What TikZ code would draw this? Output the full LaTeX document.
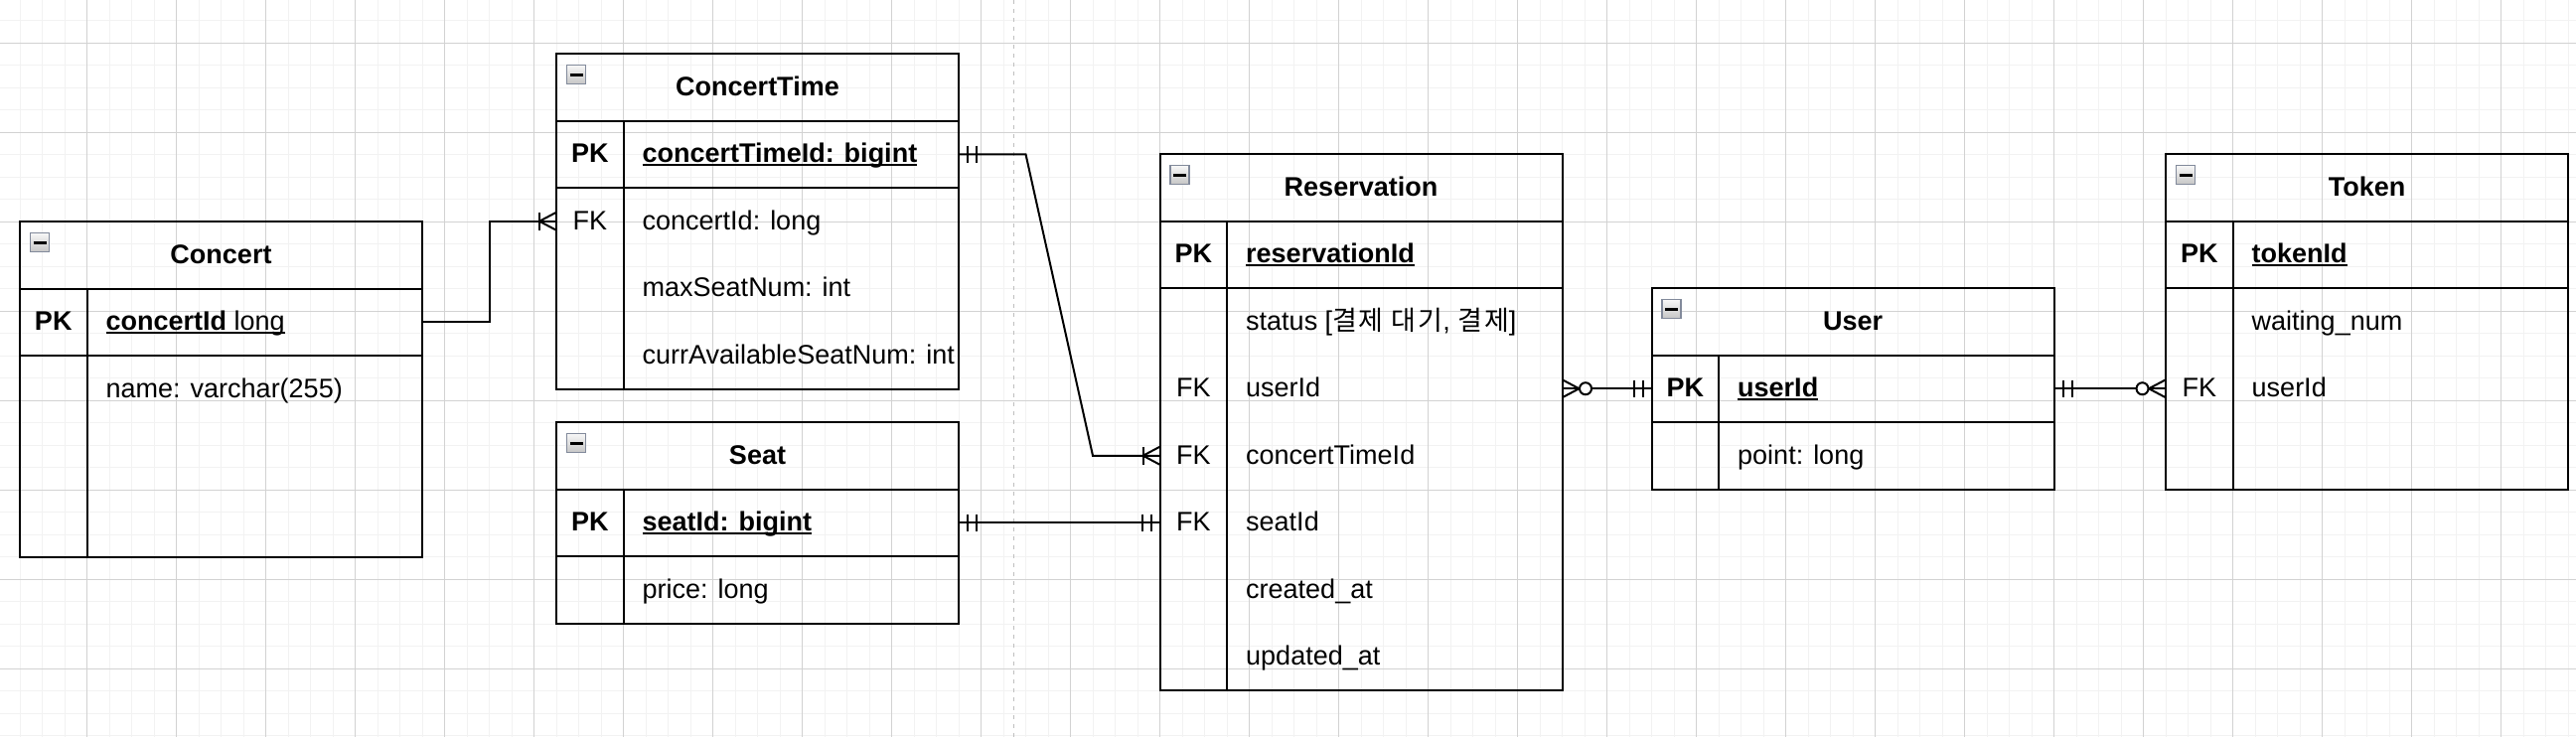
\documentclass[tikz,border=0pt]{standalone}
\usepackage{fontspec}
\setmainfont{Liberation Sans}
\newfontfamily\krfont[LetterSpace=7]{Noto Sans CJK KR}
\usetikzlibrary{calc}
\newcommand\ulx[1]{\setbox0\hbox{#1}\rlap{\rule[-3.5pt]{\wd0}{2pt}}\box0}
\definecolor{iconedge}{RGB}{130,138,155}
\tikzset{
  gminor/.style={draw=gray!10, line width=1pt},
  gmajor/.style={draw=gray!35, line width=1pt},
  pagebreak/.style={draw=gray!50, line width=1.2pt, dash pattern=on 4pt off 5pt},
  ln/.style={draw=black, line width=2pt},
  conn/.style={draw=black, line width=2pt, line join=miter},
  frame/.style={draw=black, line width=2pt, minimum width=405pt, inner sep=0pt, outer sep=0pt, anchor=north west},
  rowbox/.style={minimum width=405pt, minimum height=67.5pt, inner sep=0pt, outer sep=0pt},
  ttl/.style={anchor=base, inner sep=0pt, font=\fontsize{27}{32}\selectfont\bfseries},
  keyt/.style={anchor=base, inner sep=0pt, font=\fontsize{27}{32}\selectfont},
  fld/.style={anchor=base west, inner sep=0pt, font=\fontsize{27}{32}\selectfont},
  minbox/.style={draw=iconedge, line width=1.5pt, top color=gray!6, bottom color=gray!45,
    minimum size=19pt, inner sep=0pt, outer sep=0pt,
    path picture={\draw[black, line width=3pt] ([xshift=-6.5pt]path picture bounding box.center) -- ([xshift=6.5pt]path picture bounding box.center);}},
}
% #1 name, #2 x, #3 y, #4 body rows, #5 title, #6 total height
\newcommand\ertable[6]{%
  \node[frame, minimum height=#6] (#1) at (#2,#3) {};
  \node[rowbox] (#1-h) at ($(#1.north west)+(202.5,33.75)$) {};
  \node[ttl] (#1-t) at ($(#1-h.center)+(0,8.5)$) {#5};
  \node[minbox] (#1-m) at ($(#1.north west)+(20,21)$) {};
  \node[rowbox] (#1-pk) at ($(#1.north west)+(202.5,101.25)$) {};
  \foreach \i in {1,...,#4}{\node[rowbox] (#1-f\i) at ($(#1.north west)+(202.5,{67.5*\i+101.25})$) {};}
  \draw[ln] (#1-h.south west) -- (#1-h.south east);
  \draw[ln] (#1-pk.south west) -- (#1-pk.south east);
  \draw[ln] ($(#1-h.south west)+(67.5,0)$) -- ($(#1.south west)+(67.5,0)$);
}
\newcommand\erfield[3]{%
  \node[keyt] (#1-k) at ($(#1.west)+(33.75,8.5)$) {#2};
  \node[fld] (#1-x) at ($(#1.west)+(86.5,8.5)$) {#3};
}
\newcommand\ermandone[2]{%
  \draw[conn] ($(#1)+(#2*9,-8.75)$) -- ($(#1)+(#2*9,8.75)$);
  \draw[conn] ($(#1)+(#2*18,-8.75)$) -- ($(#1)+(#2*18,8.75)$);
}
\newcommand\ercrow[2]{%
  \draw[conn] ($(#1)+(0,-9)$) -- ($(#1)+(#2*17,0)$) -- ($(#1)+(0,9)$);
}
\newcommand\eronemany[2]{%
  \ercrow{#1}{#2}
  \draw[conn] ($(#1)+(#2*17,-8.75)$) -- ($(#1)+(#2*17,8.75)$);
}
\newcommand\erzeromany[2]{%
  \ercrow{#1}{#2}
  \draw[conn, fill=white] ($(#1)+(#2*23.5,0)$) circle[radius=6pt];
}
\begin{document}
\begin{tikzpicture}[x=1pt, y=-1pt]
\useasboundingbox (0,0) rectangle (2593,742);
\fill[white] (0,0) rectangle (2593,742);
% grid
\foreach \i in {0,...,115} \draw[gminor] ({-2.5+22.5*\i},0) -- ({-2.5+22.5*\i},742);
\foreach \i in {0,...,33} \draw[gminor] (0,{-1.7+22.5*\i}) -- (2593,{-1.7+22.5*\i});
\foreach \i in {0,...,29} \draw[gmajor] ({-2.5+90*\i},0) -- ({-2.5+90*\i},742);
\foreach \i in {0,...,8} \draw[gmajor] (0,{43.3+90*\i}) -- (2593,{43.3+90*\i});
\draw[pagebreak] (1020.7,0) -- (1020.7,742);

% tables
\ertable{c}{20}{223}{3}{Concert}{337.5}
\erfield{c-pk}{\textbf{PK}}{\ulx{\textbf{concertId} long}}
\erfield{c-f1}{}{name: varchar(255)}

\ertable{ct}{560}{54}{3}{ConcertTime}{337.5}
\erfield{ct-pk}{\textbf{PK}}{\ulx{\textbf{concertTimeId: bigint}}}
\erfield{ct-f1}{FK}{concertId: long}
\erfield{ct-f2}{}{maxSeatNum: int}
\erfield{ct-f3}{}{currAvailableSeatNum: int}

\ertable{s}{560}{425}{1}{Seat}{202.5}
\erfield{s-pk}{\textbf{PK}}{\ulx{\textbf{seatId: bigint}}}
\erfield{s-f1}{}{price: long}

\ertable{r}{1167.5}{155}{6}{Reservation}{540}
\erfield{r-pk}{\textbf{PK}}{\ulx{\textbf{reservationId}}}
\erfield{r-f1}{}{status [{\krfont 결제 대기}, {\krfont 결제}]}
\erfield{r-f2}{FK}{userId}
\erfield{r-f3}{FK}{concertTimeId}
\erfield{r-f4}{FK}{seatId}
\erfield{r-f5}{}{created\_at}
\erfield{r-f6}{}{updated\_at}

\ertable{u}{1662.5}{290}{1}{User}{202.5}
\erfield{u-pk}{\textbf{PK}}{\ulx{\textbf{userId}}}
\erfield{u-f1}{}{point: long}

\ertable{t}{2180}{155}{3}{Token}{337.5}
\erfield{t-pk}{\textbf{PK}}{\ulx{\textbf{tokenId}}}
\erfield{t-f1}{}{waiting\_num}
\erfield{t-f2}{FK}{userId}

% connectors
\draw[conn] (c-pk.east) -- ++(67.5,0) |- (ct-f1.west);
\eronemany{ct-f1.west}{-1}

\draw[conn] (ct-pk.east) -- ++(67.5,0) -- ($(r-f3.west)+(-67.5,0)$) -- (r-f3.west);
\ermandone{ct-pk.east}{1}
\eronemany{r-f3.west}{-1}

\draw[conn] (s-pk.east) -- (r-f4.west);
\ermandone{s-pk.east}{1}
\ermandone{r-f4.west}{-1}

\draw[conn] (r-f2.east) -- (u-pk.west);
\erzeromany{r-f2.east}{1}
\ermandone{u-pk.west}{-1}

\draw[conn] (u-pk.east) -- (t-f2.west);
\ermandone{u-pk.east}{1}
\erzeromany{t-f2.west}{-1}
\end{tikzpicture}
\end{document}
